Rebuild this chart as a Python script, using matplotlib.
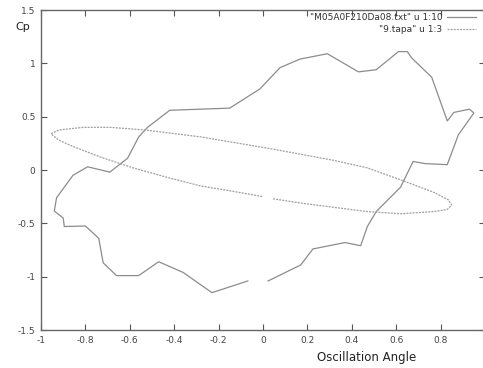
import numpy as np
import matplotlib
matplotlib.use("Agg")
import matplotlib.pyplot as plt

# Solid series: "M05A0F210Da08.txt" u 1:10 (gap in the data kept as two ends)
solid_x = [0.023, 0.17, 0.225, 0.37, 0.44, 0.47, 0.51, 0.62, 0.676, 0.73, 0.83, 0.88,
           0.95, 0.93, 0.86, 0.83, 0.76, 0.67, 0.65, 0.61, 0.51, 0.43, 0.29, 0.167,
           0.077, -0.014, -0.15, -0.42, -0.52, -0.56, -0.61, -0.69, -0.79, -0.856,
           -0.93, -0.94, -0.90, -0.895, -0.80, -0.74, -0.72, -0.66, -0.56, -0.47,
           -0.36, -0.23, -0.068]
solid_y = [-1.04, -0.89, -0.74, -0.68, -0.71, -0.53, -0.39, -0.16, 0.08, 0.06, 0.05, 0.33,
           0.535, 0.57, 0.54, 0.46, 0.87, 1.05, 1.11, 1.11, 0.94, 0.92, 1.09, 1.04,
           0.96, 0.76, 0.58, 0.56, 0.40, 0.31, 0.11, -0.02, 0.03, -0.05,
           -0.26, -0.385, -0.45, -0.53, -0.525, -0.64, -0.87, -0.99, -0.99, -0.86,
           -0.96, -1.15, -1.04]

# Dashed series: "9.tapa" u 1:3
dash_x = [0.045, 0.17, 0.32, 0.47, 0.62, 0.77, 0.83, 0.85, 0.835, 0.77, 0.63, 0.47,
          0.32, 0.02, -0.28, -0.53, -0.69, -0.81, -0.92, -0.955, -0.92, -0.855,
          -0.73, -0.585, -0.43, -0.28, -0.135, 0.0]
dash_y = [-0.27, -0.31, -0.35, -0.39, -0.41, -0.39, -0.37, -0.33, -0.28, -0.21, -0.10, 0.02,
          0.09, 0.205, 0.31, 0.375, 0.40, 0.40, 0.375, 0.34, 0.28, 0.22,
          0.12, 0.02, -0.07, -0.15, -0.20, -0.25]

xticks = [-1, -0.8, -0.6, -0.4, -0.2, 0, 0.2, 0.4, 0.6, 0.8, 1]
xticklabels = ["-1", "-0.8", "-0.6", "-0.4", "-0.2", "0", "0.2", "0.4", "0.6", "0.8", "1"]
yticks = [-1.5, -1, -0.5, 0, 0.5, 1, 1.5]
yticklabels = ["-1.5", "-1", "-0.5", "0", "0.5", "1", "1.5"]

fig = plt.figure(figsize=(4.83, 3.68), dpi=100)
ax = fig.add_axes([41/483, 1 - 330/368, 444/483, 320/368])

ax.plot(solid_x, solid_y, color="#8c8c8c", lw=0.9, label='"M05A0F210Da08.txt" u 1:10')
ax.plot(dash_x, dash_y, color="#a0a0a0", lw=0.9, ls=(0, (1.6, 0.9)), label='"9.tapa" u 1:3')

ax.set_xlim(-1, 1)
ax.set_ylim(-1.5, 1.5)
ax.set_xticks(xticks)
ax.set_xticklabels(xticklabels)
ax.set_yticks(yticks)
ax.set_yticklabels(yticklabels)
ax.tick_params(direction="in", top=True, right=True, length=4, width=0.8,
               colors="#555555", labelsize=6.5, labelcolor="#444444", pad=4)
for s in ax.spines.values():
    s.set_color("#666666")
    s.set_linewidth(1.0)

fig.text(15/483, 1 - 27/368, "Cp", fontsize=8, color="#222222", va="center", ha="left")
fig.text(367/483, 1 - 357/368, "Oscillation Angle", fontsize=8.5, color="#222222",
         va="center", ha="center")

leg = ax.legend(loc="upper right", bbox_to_anchor=(476/483, 1 - 13/368),
                bbox_transform=fig.transFigure, frameon=False, markerfirst=False,
                fontsize=6.5, handlelength=3.2, handletextpad=0.5, labelspacing=0.35,
                borderpad=0.0, borderaxespad=0.0)
for t in leg.get_texts():
    t.set_color("#333333")

fig.savefig("out.png", dpi=100)
